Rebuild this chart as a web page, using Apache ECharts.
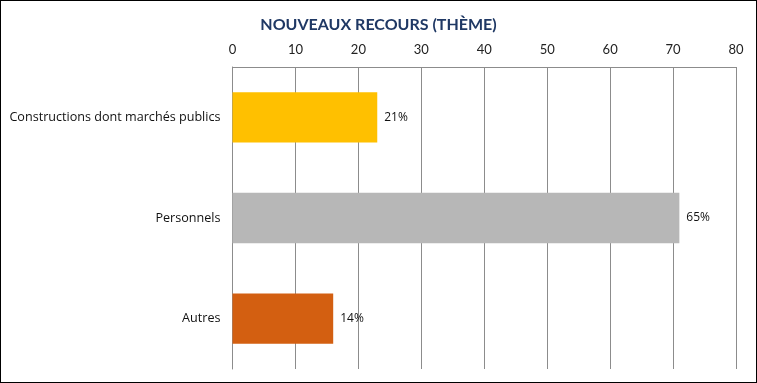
<!DOCTYPE html>
<html><head><meta charset="utf-8">
<script src="https://cdn.jsdelivr.net/npm/echarts@6/dist/echarts.min.js"></script>
<style>
html,body{margin:0;padding:0;background:#fff;}
#c{position:absolute;left:0;top:0;width:755px;height:381px;border:1px solid #000;}
</style></head>
<body><div id="c"></div>
<script>
const categories = ["Constructions dont marchés publics", "Personnels", "Autres"];
const values = [23, 71, 16];
const pctLabels = ["21%", "65%", "14%"];
const colors = ["#FFC000", "#B7B7B7", "#D35F11"];
const ticks = [0, 10, 20, 30, 40, 50, 60, 70, 80];

const chart = echarts.init(document.getElementById('c'), null, {renderer: 'canvas'});
chart.setOption({
  animation: false,
  title: {
    text: "NOUVEAUX RECOURS (THÈME)",
    left: 'center', top: 11,
    textStyle: {fontFamily: 'Lato', fontWeight: 'bold', fontSize: 16, color: '#1F3864'}
  },
  grid: {left: 231.5, right: 20, top: 66, bottom: 13, containLabel: false},
  xAxis: {
    type: 'value', position: 'top', min: ticks[0], max: ticks[ticks.length-1], interval: 10,
    axisLine: {show: true, lineStyle: {color: '#8c8c8c', width: 1}},
    axisTick: {show: false},
    axisLabel: {fontFamily: 'Lato', fontSize: 13, color: '#222', margin: 11},
    splitLine: {show: true, lineStyle: {color: '#8c8c8c', width: 1}}
  },
  yAxis: {
    type: 'category', inverse: true, data: categories,
    axisLine: {show: true, lineStyle: {color: '#8c8c8c'}},
    axisTick: {show: false},
    axisLabel: {fontFamily: 'Open Sans', fontSize: 12.6, color: '#111', margin: 12}
  },
  series: [{
    type: 'bar',
    barCategoryGap: '50%',
    data: values.map((v, i) => ({value: v, itemStyle: {color: colors[i]}})),
    label: {
      show: true, position: 'right', distance: 7,
      fontFamily: 'Open Sans', fontSize: 12, color: '#111',
      formatter: p => pctLabels[p.dataIndex]
    }
  }]
});
</script></body></html>
